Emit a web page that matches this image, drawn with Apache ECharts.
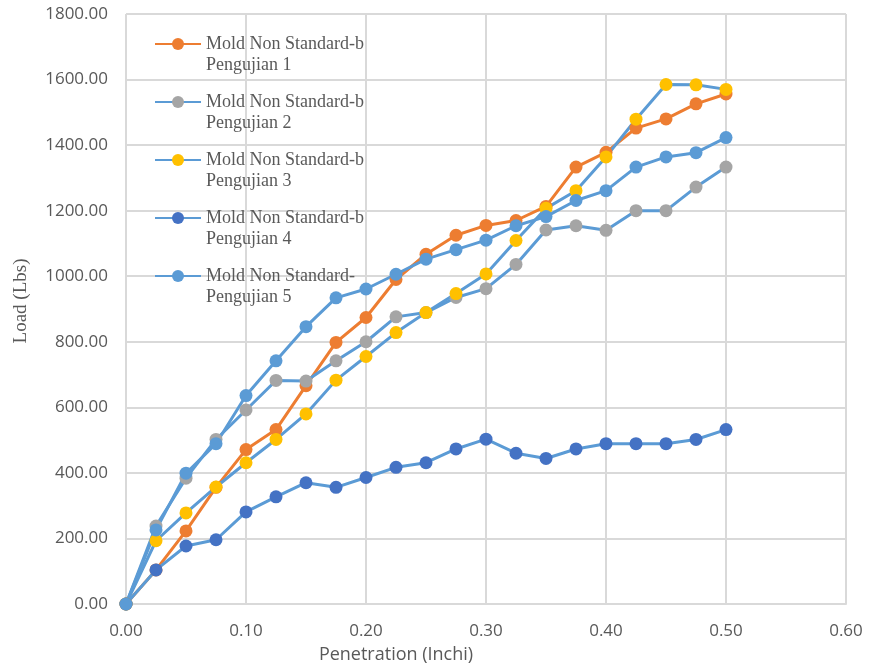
<!DOCTYPE html>
<html>
<head>
<meta charset="utf-8">
<title>Load vs Penetration</title>
<script src="https://cdn.jsdelivr.net/npm/echarts@6/dist/echarts.min.js"></script>
<style>
  html, body { margin: 0; padding: 0; background: #ffffff; }
  #chart { width: 869px; height: 666px; }
</style>
</head>
<body>
<div id="chart"></div>
<script>
// Penetration readings (inch)
const penetration = [0, 0.025, 0.05, 0.075, 0.10, 0.125, 0.15, 0.175, 0.20, 0.225, 0.25,
  0.275, 0.30, 0.325, 0.35, 0.375, 0.40, 0.425, 0.45, 0.475, 0.50];

// Load readings (lbs) for each test
const test1 = [0, 104, 223, 356, 471, 532, 666, 798, 874, 990, 1067,
  1125, 1155, 1170, 1213, 1333, 1378, 1452, 1480, 1526, 1556];
const test2 = [0, 238, 384, 502, 592, 682, 680, 742, 800, 876, 889,
  935, 962, 1036, 1141, 1154, 1140, 1200, 1200, 1272, 1333];
const test3 = [0, 193, 278, 357, 431, 502, 580, 683, 755, 828, 889,
  947, 1007, 1109, 1207, 1261, 1364, 1479, 1585, 1584, 1570];
const test4 = [0, 104, 177, 196, 281, 327, 370, 356, 386, 417, 431,
  473, 503, 460, 444, 473, 489, 489, 489, 502, 532];
const test5 = [0, 226, 399, 489, 636, 742, 846, 934, 961, 1006, 1052,
  1081, 1110, 1154, 1182, 1231, 1261, 1333, 1364, 1377, 1423];

const seriesNames = [
  'Mold Non Standard-b\nPengujian 1',
  'Mold Non Standard-b\nPengujian 2',
  'Mold Non Standard-b\nPengujian 3',
  'Mold Non Standard-b\nPengujian 4',
  'Mold Non Standard-\nPengujian 5'
];
const loads = [test1, test2, test3, test4, test5];
const markerColors = ['#ED7D31', '#A5A5A5', '#FFC000', '#4472C4', '#5B9BD5'];
const lineColors = ['#ED7D31', '#5B9BD5', '#5B9BD5', '#5B9BD5', '#5B9BD5'];

const xTicks = { min: 0, max: 0.6, interval: 0.1 };
const yTicks = { min: 0, max: 1800, interval: 200 };

const tickFont = { fontFamily: 'Open Sans', fontSize: 17, color: '#595959' };
const gridLine = { lineStyle: { color: '#D9D9D9', width: 2 } };

const chart = echarts.init(document.getElementById('chart'), null, { renderer: 'canvas' });

chart.setOption({
  animation: false,
  backgroundColor: '#ffffff',
  grid: { left: 126, right: 23, top: 14, bottom: 62, containLabel: false, outerBoundsMode: 'none' },
  legend: {
    orient: 'vertical',
    left: 154,
    top: 12.5,
    padding: 0,
    itemWidth: 46,
    itemHeight: 15,
    itemGap: -5,
    data: seriesNames,
    // leading blank line keeps the marker level with the first text line
    formatter: name => '\n' + name,
    textStyle: {
      fontFamily: 'Liberation Serif',
      fontSize: 18,
      lineHeight: 21,
      color: '#595959'
    }
  },
  xAxis: {
    type: 'value',
    min: xTicks.min,
    max: xTicks.max,
    interval: xTicks.interval,
    name: 'Penetration (Inchi)',
    nameLocation: 'middle',
    nameGap: 42,
    nameTextStyle: { fontFamily: 'Open Sans', fontSize: 18, color: '#595959', padding: [0, 180, 0, 0] },
    axisLine: { show: true, lineStyle: { color: '#D9D9D9', width: 2 } },
    axisTick: { show: false },
    axisLabel: Object.assign({ margin: 19, formatter: v => v.toFixed(2) }, tickFont),
    splitLine: Object.assign({ show: true }, gridLine)
  },
  yAxis: {
    type: 'value',
    min: yTicks.min,
    max: yTicks.max,
    interval: yTicks.interval,
    name: 'Load (Lbs)',
    nameLocation: 'middle',
    nameGap: 95,
    nameTextStyle: { fontFamily: 'Liberation Serif', fontSize: 19, color: '#595959', padding: [0, 0, 0, 16] },
    axisLine: { show: false },
    axisTick: { show: false },
    axisLabel: Object.assign({ margin: 18, formatter: v => v.toFixed(2) }, tickFont),
    splitLine: Object.assign({ show: true }, gridLine)
  },
  series: loads.map((vals, i) => ({
    name: seriesNames[i],
    type: 'line',
    data: penetration.map((p, j) => [p, vals[j]]),
    symbol: 'circle',
    symbolSize: 13,
    showSymbol: true,
    lineStyle: { color: lineColors[i], width: 3 },
    itemStyle: { color: markerColors[i] },
    emphasis: { disabled: true }
  }))
});
</script>
</body>
</html>
